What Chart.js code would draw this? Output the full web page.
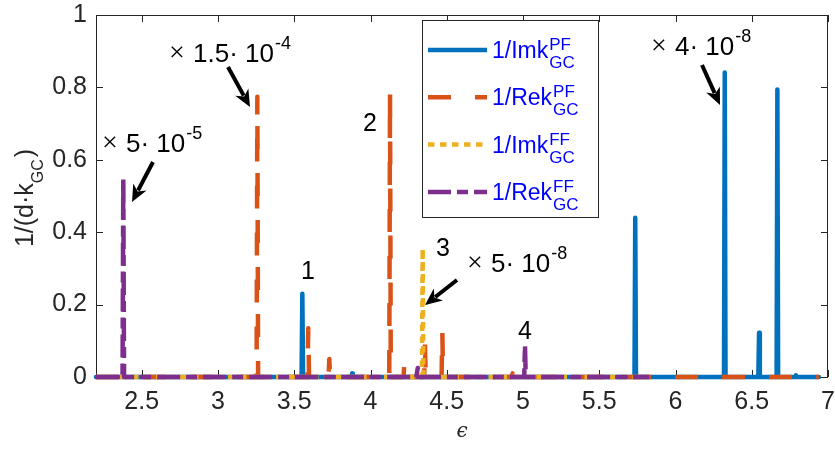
<!DOCTYPE html>
<html><head><meta charset="utf-8">
<script src="https://cdn.jsdelivr.net/npm/chart.js@4"></script>
<style>html,body{margin:0;padding:0;background:#fff}canvas{display:block}</style>
</head><body>
<canvas id="c" width="835" height="449"></canvas>
<script>
// ---------------- data ----------------
const xTicks = [2.5, 3, 3.5, 4, 4.5, 5, 5.5, 6, 6.5, 7];
const yTicks = [0, 0.2, 0.4, 0.6, 0.8, 1];

// 1/Imk_GC^PF  (blue, solid)
const epsImkPF = [2.20, 3.548, 3.553, 3.558, 3.876, 3.880, 3.884, 5.731, 5.736, 5.741, 6.318, 6.323, 6.328, 6.543, 6.548, 6.553, 6.663, 6.668, 6.673, 6.786, 6.790, 6.794, 6.94];
const imkPF    = [0,    0,     0.230, 0,     0,     0.010, 0,     0,     0.440, 0,     0,     0.841, 0,     0,     0.122, 0,     0,     0.794, 0,     0,     0.005, 0,     0];

// 1/Rek_GC^PF  (orange, dashed)
const epsRekPF = [2.20, 3.253, 3.258, 3.263, 3.587, 3.592, 3.597, 3.725, 3.730, 3.735, 4.123, 4.128, 4.133, 4.217, 4.222, 4.227, 4.352, 4.357, 4.362, 4.466, 4.471, 4.476, 4.927, 4.932, 4.937, 6.94];
const rekPF    = [0,    0,     0.774, 0,     0,     0.135, 0,     0,     0.050, 0,     0,     0.785, 0,     0,     0.040, 0,     0,     0.090, 0,     0,     0.124, 0,     0,     0.010, 0,     0];

// 1/Imk_GC^FF  (yellow, dotted)
const epsImkFF = [2.20, 4.337, 4.342, 4.347, 5.83];
const imkFF    = [0,    0,     0.355, 0,     0];

// 1/Rek_GC^FF  (purple, dash-dot)
const epsRekFF = [2.20, 2.374, 2.379, 2.384, 4.300, 4.310, 4.320, 5.008, 5.013, 5.018, 5.83];
const rekFF    = [0,    0,     0.553, 0,     0,     0.025, 0,     0,     0.086, 0,     0];

const legendNames = ['1/Imk', '1/Rek', '1/Imk', '1/Rek'];
const legendSup   = ['PF', 'PF', 'FF', 'FF'];
const legendSub   = 'GC';

// multiplier annotations
const multMant = ['1.5', '5', '5', '4'];
const multExp  = ['-4', '-5', '-8', '-8'];
const peakLabels = ['1', '2', '3', '4'];

// ---------------- styles ----------------
const colors = ['#0072BD', '#D95319', '#EDB120', '#7E2F8E'];
const dashes = [[], [23, 24], [6.5, 5.5], [23, 6, 11, 6]];
const LW = 4.5;
const FONT = '"Liberation Sans", Arial, Helvetica, sans-serif';

function pts(xs, ys) { return xs.map((v, i) => ({x: v, y: ys[i]})); }

function mkDs(i, xs, ys, order) {
  return {
    label: legendNames[i] + legendSup[i],
    data: pts(xs, ys),
    borderColor: colors[i],
    backgroundColor: colors[i],
    borderWidth: LW,
    borderDash: dashes[i],
    borderCapStyle: i === 0 ? 'round' : 'butt',
    borderJoinStyle: 'round',
    pointRadius: 0,
    tension: 0,
    fill: false,
    clip: false,
    order: order
  };
}

function arrow(ctx, x1, y1, x2, y2) {
  const a = Math.atan2(y2 - y1, x2 - x1);
  const hl = 17, hw = 7.5;
  const bx = x2 - hl * Math.cos(a), by = y2 - hl * Math.sin(a);
  ctx.strokeStyle = '#000'; ctx.fillStyle = '#000'; ctx.lineWidth = 4; ctx.lineCap = 'butt';
  ctx.setLineDash([]);
  ctx.beginPath(); ctx.moveTo(x1, y1); ctx.lineTo(x2 - (hl - 4) * Math.cos(a), y2 - (hl - 4) * Math.sin(a)); ctx.stroke();
  ctx.beginPath();
  ctx.moveTo(x2, y2);
  ctx.lineTo(bx + hw * Math.sin(a), by - hw * Math.cos(a));
  ctx.lineTo(x2 - (hl - 5) * Math.cos(a), y2 - (hl - 5) * Math.sin(a));
  ctx.lineTo(bx - hw * Math.sin(a), by + hw * Math.cos(a));
  ctx.closePath(); ctx.fill();
}

function multText(ctx, xl, base, mant, exp) {
  ctx.fillStyle = '#000';
  ctx.textAlign = 'left'; ctx.textBaseline = 'alphabetic';
  ctx.font = '28px "Liberation Serif", "Times New Roman", serif';
  ctx.fillText('\u00D7', xl, base - 1);
  ctx.font = '26px ' + FONT;
  const s = mant + '\u00B7 10';
  ctx.fillText(s, xl + 24, base);
  const w = ctx.measureText(s).width;
  ctx.font = '18px ' + FONT;
  ctx.fillText(exp, xl + 24 + w + 1, base - 13);
}

const decor = {
  id: 'decor',
  beforeDatasetsDraw(chart) {
    const {ctx, chartArea: a, scales: {x, y}} = chart;
    ctx.save();
    ctx.strokeStyle = '#262626'; ctx.lineWidth = 1;
    ctx.strokeRect(a.left + 0.5, a.top + 0.5, a.right - a.left - 1, a.bottom - a.top);
    ctx.beginPath();
    xTicks.forEach(v => {
      const p = Math.round(x.getPixelForValue(v)) + 0.5;
      ctx.moveTo(p, a.bottom); ctx.lineTo(p, a.bottom - 7);
      ctx.moveTo(p, a.top); ctx.lineTo(p, a.top + 7);
    });
    yTicks.forEach(v => {
      const p = Math.round(y.getPixelForValue(v)) + 0.5;
      ctx.moveTo(a.left, p); ctx.lineTo(a.left + 7, p);
      ctx.moveTo(a.right, p); ctx.lineTo(a.right - 7, p);
    });
    ctx.stroke();
    ctx.restore();
  },
  afterDatasetsDraw(chart) {
    const {ctx, chartArea: a} = chart;
    ctx.save();
    // ---- annotations ----
    arrow(ctx, 228, 67, 250, 107);
    arrow(ctx, 153, 162, 132, 202);
    arrow(ctx, 457, 280, 425, 305);
    arrow(ctx, 702, 65, 720, 105);
    multText(ctx, 169, 62, multMant[0], multExp[0]);
    multText(ctx, 102, 152, multMant[1], multExp[1]);
    multText(ctx, 467, 272, multMant[2], multExp[2]);
    multText(ctx, 651, 55, multMant[3], multExp[3]);
    ctx.font = '25px ' + FONT; ctx.fillStyle = '#000'; ctx.textAlign = 'center'; ctx.textBaseline = 'alphabetic';
    ctx.fillText(peakLabels[0], 308, 279);
    ctx.fillText(peakLabels[1], 370, 131);
    ctx.fillText(peakLabels[2], 443, 256);
    ctx.fillText(peakLabels[3], 525, 339);

    // ---- legend ----
    const L = {x: 422, y: 20, w: 176, h: 197};
    ctx.fillStyle = '#fff'; ctx.fillRect(L.x, L.y, L.w, L.h);
    ctx.strokeStyle = '#262626'; ctx.lineWidth = 1; ctx.setLineDash([]);
    ctx.strokeRect(L.x + 0.5, L.y + 0.5, L.w, L.h);
    for (let i = 0; i < 4; i++) {
      const cy = 50 + i * 47.3;
      ctx.save();
      ctx.strokeStyle = colors[i]; ctx.lineWidth = LW; ctx.setLineDash(dashes[i]); ctx.lineCap = 'butt';
      ctx.beginPath(); ctx.moveTo(428, cy); ctx.lineTo(487, cy); ctx.stroke();
      ctx.restore();
      const base = cy + 8;
      ctx.fillStyle = '#0000FF'; ctx.textAlign = 'left'; ctx.textBaseline = 'alphabetic';
      ctx.font = '23px ' + FONT;
      ctx.fillText(legendNames[i], 492, base);
      const w = ctx.measureText(legendNames[i]).width;
      ctx.font = '17px ' + FONT;
      ctx.fillText(legendSup[i], 492 + w + 1, base - 8);
      ctx.fillText(legendSub, 492 + w + 1, base + 10);
    }

    // ---- y title ----
    ctx.save();
    ctx.translate(33, 198);
    ctx.rotate(-Math.PI / 2);
    ctx.fillStyle = '#262626'; ctx.textAlign = 'left'; ctx.textBaseline = 'alphabetic';
    ctx.font = '25px ' + FONT;
    const t1 = '1/(d\u00B7k', t3 = ')';
    const w1 = ctx.measureText(t1).width, w3 = ctx.measureText(t3).width;
    ctx.font = '16px ' + FONT;
    const w2 = ctx.measureText(legendSub).width;
    const tot = w1 + w2 + w3 + 2;
    let u = -tot / 2;
    ctx.font = '25px ' + FONT; ctx.fillText(t1, u, 0); u += w1;
    ctx.font = '16px ' + FONT; ctx.fillText(legendSub, u, 10); u += w2 + 2;
    ctx.font = '25px ' + FONT; ctx.fillText(t3, u, 0);
    ctx.restore();

    // ---- x title ----
    ctx.fillStyle = '#262626'; ctx.textAlign = 'center'; ctx.textBaseline = 'middle';
    ctx.font = 'italic 20px "DejaVu Serif", "Liberation Serif", serif';
    ctx.fillText('\u03F5', (a.left + a.right) / 2, 432);
    ctx.restore();
  }
};

new Chart(document.getElementById('c'), {
  type: 'line',
  data: {
    datasets: [
      mkDs(0, epsImkPF, imkPF, 4),
      mkDs(1, epsRekPF, rekPF, 3),
      mkDs(2, epsImkFF, imkFF, 2),
      mkDs(3, epsRekFF, rekFF, 1)
    ]
  },
  options: {
    responsive: false,
    animation: false,
    devicePixelRatio: 1,
    layout: {padding: {top: 15, right: 7, left: 0, bottom: 0}},
    plugins: {legend: {display: false}, tooltip: {enabled: false}},
    scales: {
      x: {
        type: 'linear', min: 2.2, max: 7,
        grid: {display: false, drawTicks: false},
        border: {display: false},
        afterBuildTicks: s => { s.ticks = xTicks.map(v => ({value: v})); },
        afterFit: s => { s.height = 72; s.paddingLeft = 0; s.paddingRight = 0; },
        ticks: {
          padding: 10, maxRotation: 0, autoSkip: false, color: '#262626',
          font: {family: FONT, size: 25},
          callback: v => String(v)
        }
      },
      y: {
        type: 'linear', min: 0, max: 1,
        grid: {display: false, drawTicks: false},
        border: {display: false},
        afterBuildTicks: s => { s.ticks = yTicks.map(v => ({value: v})); },
        afterFit: s => { s.width = 96; s.paddingTop = 0; s.paddingBottom = 0; },
        ticks: {
          padding: 9, autoSkip: false, color: '#262626',
          font: {family: FONT, size: 25},
          callback: v => String(v)
        }
      }
    }
  },
  plugins: [decor]
});
</script>
</body></html>
